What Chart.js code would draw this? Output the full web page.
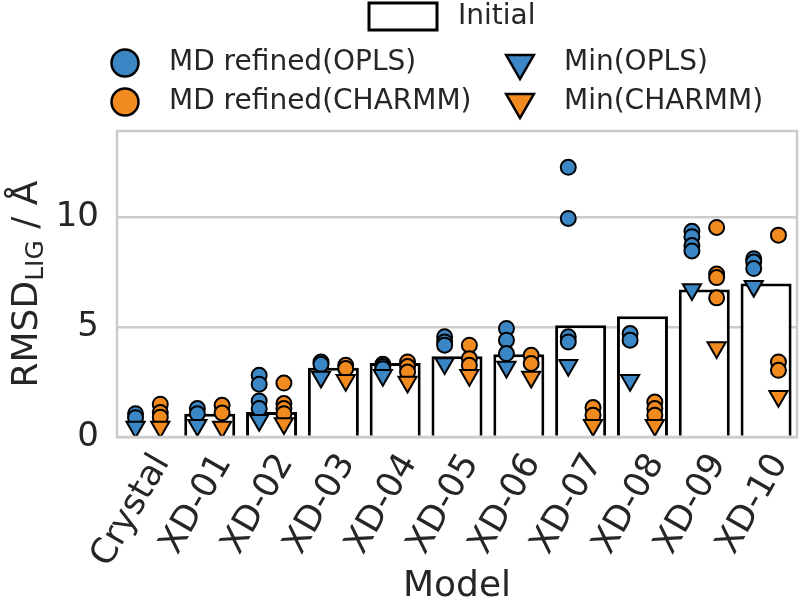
<!DOCTYPE html>
<html>
<head>
<meta charset="utf-8">
<script src="https://cdn.jsdelivr.net/npm/chart.js@4"></script>
<style>
  html, body { margin: 0; padding: 0; background: #fff; }
  #wrap { width: 800px; height: 601px; }
</style>
</head>
<body>
<div id="wrap"><canvas id="myChart" width="800" height="601"></canvas></div>
<script>
// values
const models = ["Crystal", "XD-01", "XD-02", "XD-03", "XD-04", "XD-05", "XD-06", "XD-07", "XD-08", "XD-09", "XD-10"]
const initialRmsd = [null, 1.06, 1.14, 3.14, 3.36, 3.67, 3.76, 5.08, 5.49, 6.70, 6.97]

const mdOpls = [
  [1.06, 0.88], [1.29, 1.06], [2.80, 2.40, 1.64, 1.29], [3.41, 3.30], [3.30, 3.20, 3.10],
  [4.55, 4.32, 4.17], [4.93, 4.40, 3.79], [12.25, 9.93, 4.55, 4.32], [4.70, 4.40],
  [9.35, 9.10, 8.70, 8.45], [8.10, 7.95, 7.65]
]
const mdCharmm = [
  [1.49, 1.11, 0.90], [1.44, 1.09], [2.45, 1.52, 1.29, 1.06], [3.26, 3.11], [3.41, 3.20, 2.95],
  [4.17, 3.56, 3.26], [3.71, 3.34], [1.34, 0.99], [1.59, 1.29, 0.99],
  [9.52, 7.40, 7.24, 6.32], [9.17, 3.41, 3.03]
]
const minOpls = [0.45, 0.53, 0.76, 2.73, 2.80, 3.34, 3.18, 3.26, 2.58, 6.70, 6.85]
const minCharmm = [0.45, 0.45, 0.61, 2.58, 2.50, 2.80, 2.73, 0.53, 0.53, 4.06, 1.85]

const yTicks = [0, 5, 10]

const BLUE = "#3b86c4"
const ORANGE = "#f28b1f"
const TEXT = "#262626"
const FONT = "'DejaVu Sans', sans-serif"
const dodge = 0.2

function groupPoints(groups, shift){
  var pts = []
  groups.forEach((vals, i) => vals.forEach(v => pts.push({x: i + shift, y: v})))
  return pts
}

function singlePoints(vals, shift){
  return vals.map((v, i) => ({x: i + shift, y: v}))
}

// frame round the plot, seaborn whitegrid style
const framePlugin = {
  id: "frame",
  afterDatasetsDraw(chart){
    const {ctx, chartArea: a} = chart
    ctx.save()
    ctx.strokeStyle = "#cccccc"
    ctx.lineWidth = 2.5
    ctx.strokeRect(a.left, a.top, a.right - a.left, a.bottom - a.top)
    ctx.restore()
  }
}

// y title with a subscript
const yTitlePlugin = {
  id: "ytitle",
  afterDraw(chart){
    const ctx = chart.ctx
    const a = chart.chartArea
    const big = "36px " + FONT, small = "25px " + FONT
    ctx.save()
    ctx.translate(28, (a.top + a.bottom) / 2)
    ctx.rotate(-Math.PI / 2)
    ctx.fillStyle = TEXT
    ctx.textBaseline = "middle"
    ctx.font = big
    const w1 = ctx.measureText("RMSD").width
    const w3 = ctx.measureText(" / Å").width
    ctx.font = small
    const w2 = ctx.measureText("LIG").width
    let x = -(w1 + w2 + w3) / 2
    ctx.font = big
    ctx.fillText("RMSD", x, 0)
    x += w1
    ctx.font = small
    ctx.fillText("LIG", x, 8)
    x += w2
    ctx.font = big
    ctx.fillText(" / Å", x, 0)
    ctx.restore()
  }
}

function drawMarker(ctx, kind, color, x, y, r){
  ctx.beginPath()
  if (kind == "circle"){
    ctx.arc(x, y, r, 0, Math.PI * 2)
  } else {
    ctx.moveTo(x - r * 0.866, y - r * 0.5)
    ctx.lineTo(x + r * 0.866, y - r * 0.5)
    ctx.lineTo(x, y + r)
    ctx.closePath()
  }
  ctx.fillStyle = color
  ctx.fill()
  ctx.lineWidth = 2.5
  ctx.strokeStyle = "#000"
  ctx.stroke()
}

// legend laid out like the matplotlib one: one centred row, then two columns
const legendPlugin = {
  id: "customLegend",
  afterDraw(chart){
    const ctx = chart.ctx
    ctx.save()
    ctx.fillStyle = "#fff"
    ctx.strokeStyle = "#000"
    ctx.lineWidth = 3
    ctx.fillRect(369, 3, 68, 27)
    ctx.strokeRect(369, 3, 68, 27)
    ctx.font = "28px " + FONT
    ctx.textBaseline = "middle"
    ctx.fillStyle = TEXT
    ctx.fillText("Initial", 458, 17)

    const rows = [
      [["circle", BLUE, "MD refined(OPLS)"], ["tri", BLUE, "Min(OPLS)"]],
      [["circle", ORANGE, "MD refined(CHARMM)"], ["tri", ORANGE, "Min(CHARMM)"]]
    ]
    const rowY = [63, 102]
    const colX = [125, 520]
    rows.forEach((row, r) => {
      row.forEach((item, c) => {
        drawMarker(ctx, item[0], item[1], colX[c], rowY[r], item[0] == "circle" ? 13.5 : 16)
        ctx.fillStyle = TEXT
        ctx.fillText(item[2], colX[c] + 44, rowY[r])
      })
    })
    ctx.restore()
  }
}

const ctx = document.getElementById("myChart").getContext("2d")
const myChart = new Chart(ctx, {
  type: "bar",
  data: {
    datasets: [
      {
        type: "scatter", label: "Min(OPLS)", order: 1,
        data: singlePoints(minOpls, -dodge),
        pointStyle: "triangle", rotation: 180, pointRadius: 10.5,
        backgroundColor: BLUE, borderColor: "#000", borderWidth: 2
      },
      {
        type: "scatter", label: "Min(CHARMM)", order: 1,
        data: singlePoints(minCharmm, dodge),
        pointStyle: "triangle", rotation: 180, pointRadius: 10.5,
        backgroundColor: ORANGE, borderColor: "#000", borderWidth: 2
      },
      {
        type: "scatter", label: "MD refined(OPLS)", order: 2,
        data: groupPoints(mdOpls, -dodge),
        pointStyle: "circle", pointRadius: 7.5,
        backgroundColor: BLUE, borderColor: "#000", borderWidth: 2
      },
      {
        type: "scatter", label: "MD refined(CHARMM)", order: 2,
        data: groupPoints(mdCharmm, dodge),
        pointStyle: "circle", pointRadius: 7.5,
        backgroundColor: ORANGE, borderColor: "#000", borderWidth: 2
      },
      {
        type: "bar", label: "Initial", order: 3,
        data: singlePoints(initialRmsd, 0),
        backgroundColor: "#fff", borderColor: "#000", borderWidth: 3,
        borderSkipped: "bottom",
        barPercentage: 0.825, categoryPercentage: 1
      }
    ]
  },
  options: {
    responsive: false,
    animation: false,
    layout: { autoPadding: false, padding: { top: 131, right: 3, bottom: 0, left: 0 } },
    plugins: { legend: { display: false }, tooltip: { enabled: false } },
    scales: {
      x: {
        type: "linear",
        min: -0.5, max: 10.5,
        offset: false,
        grid: { display: false, drawTicks: false },
        border: { display: false },
        afterBuildTicks(scale){ scale.ticks = models.map((m, i) => ({value: i})) },
        ticks: {
          color: TEXT, font: { family: FONT, size: 35 },
          maxRotation: 60, minRotation: 60, padding: 10, labelOffset: 14, autoSkip: false,
          callback: v => models[v]
        },
        title: {
          display: true, text: "Model", color: TEXT,
          font: { family: FONT, size: 36 },
          padding: { top: 4, bottom: -7 }
        },
        afterFit(scale){
          scale.height = 164
          scale.paddingLeft = 0
          scale.paddingRight = 0
        }
      },
      y: {
        min: 0, max: 13.9,
        grid: { color: "#cccccc", lineWidth: 2.5, drawTicks: false },
        border: { display: false },
        ticks: {
          stepSize: 5, includeBounds: false, padding: 18,
          color: TEXT, font: { family: FONT, size: 34 },
          callback: v => yTicks.includes(v) ? v : null
        },
        afterFit(scale){
          scale.width = 117
          scale.paddingTop = 0
          scale.paddingBottom = 0
        }
      }
    }
  },
  plugins: [framePlugin, yTitlePlugin, legendPlugin]
})
</script>
</body>
</html>
